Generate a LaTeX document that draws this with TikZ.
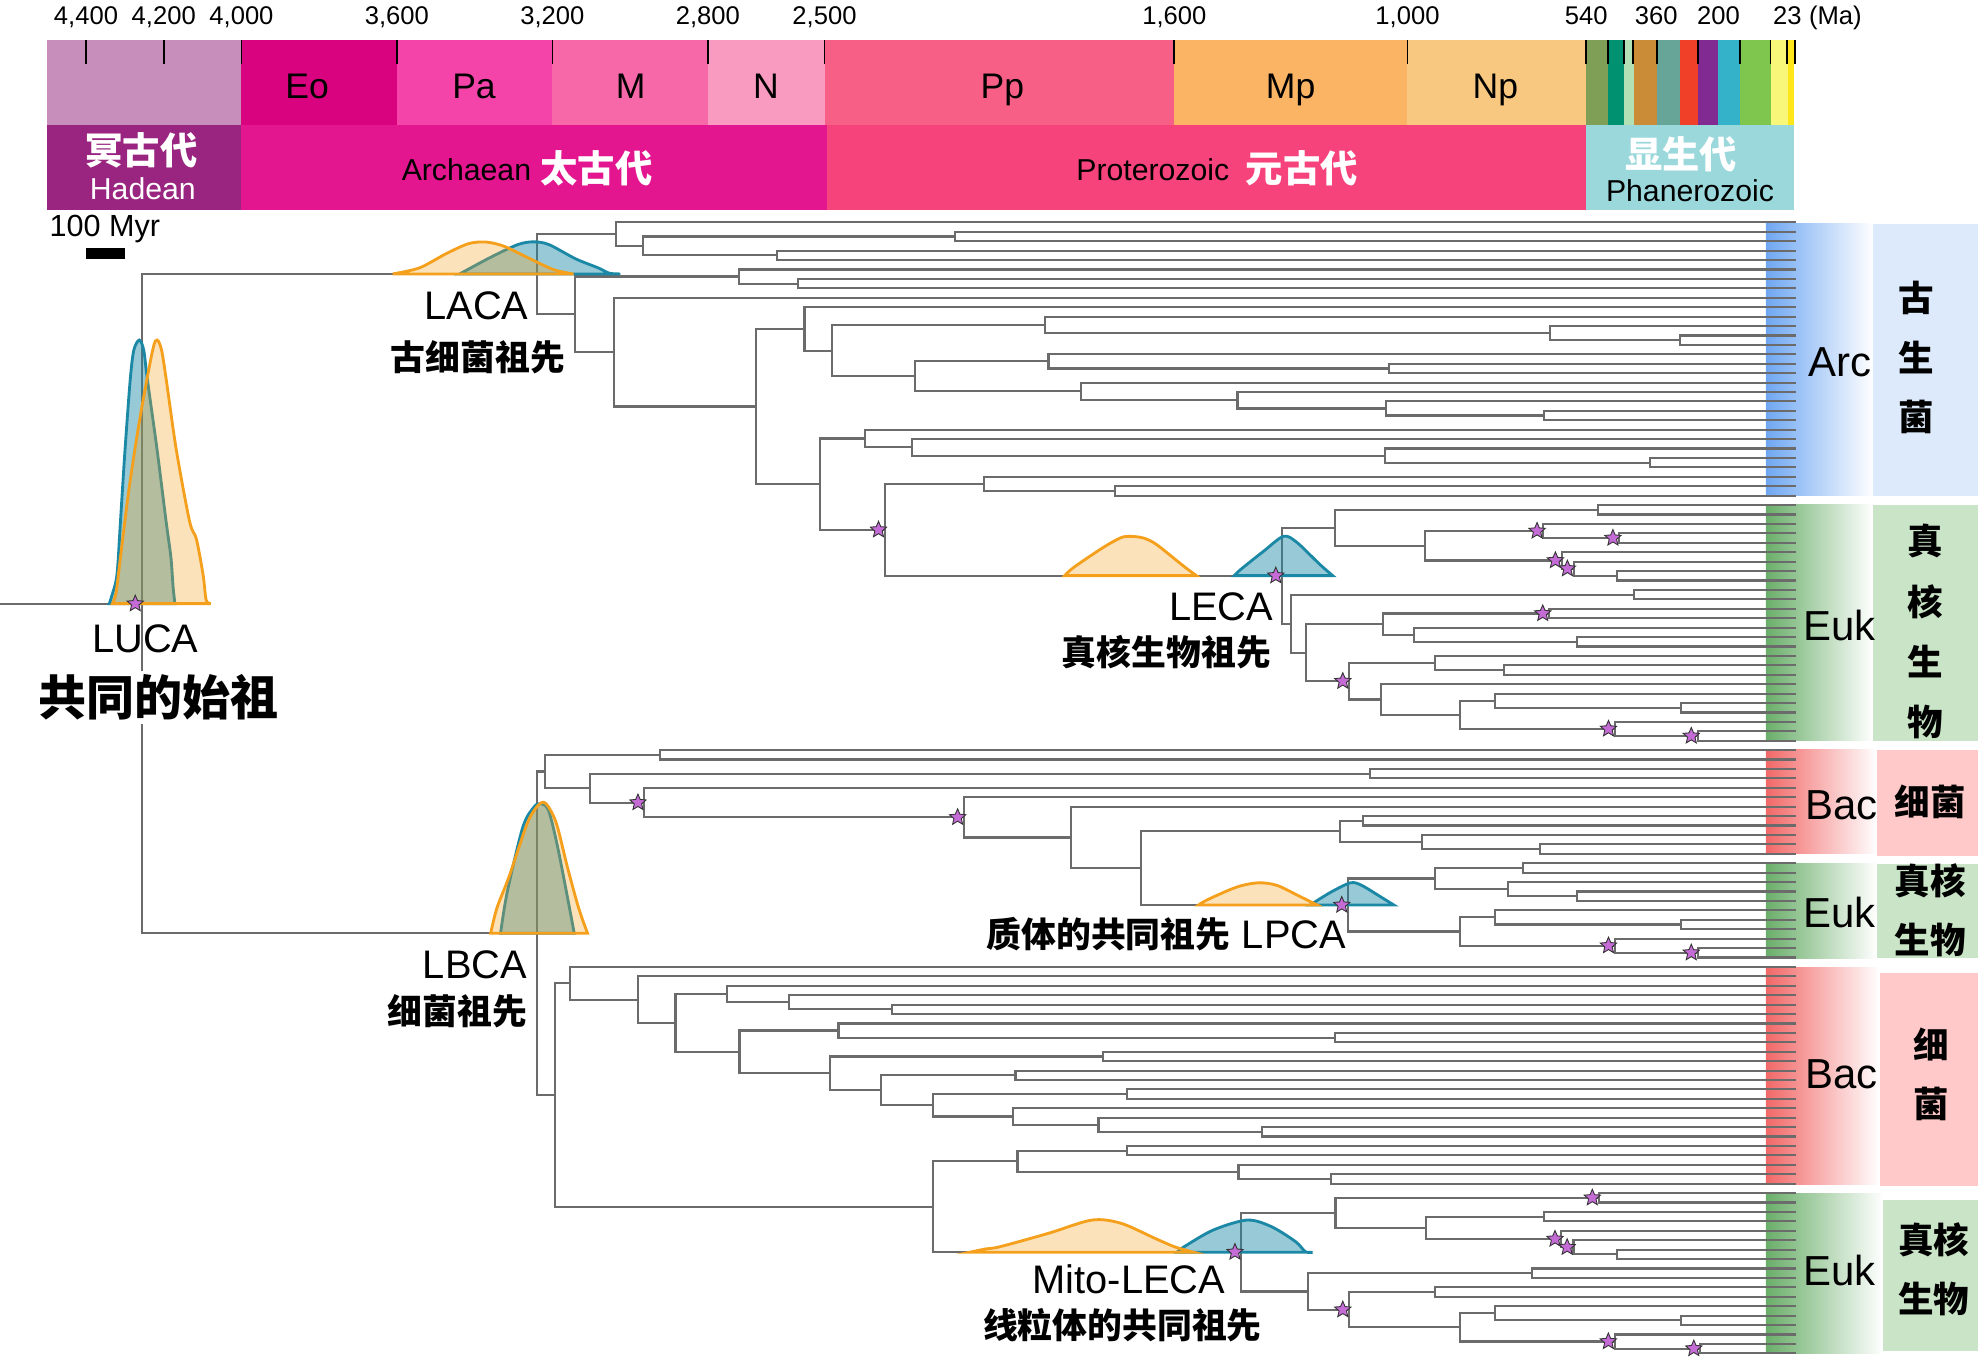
\documentclass[tikz,border=0pt]{standalone}
\usepackage{fontspec}
\setmainfont{Liberation Sans}
\newfontfamily\cjk{Noto Sans CJK SC}[BoldFont={Noto Sans CJK SC Black}]
\usetikzlibrary{calc, shapes.geometric}
\definecolor{branchgrey}{HTML}{6B6B6B}
\definecolor{densorange}{HTML}{F4A01C}
\definecolor{densteal}{HTML}{1B88A6}
\definecolor{starviolet}{HTML}{C46BD6}
% time scale
\definecolor{hadeanup}{HTML}{C78DBB}
\definecolor{hadeanlow}{HTML}{9A2581}
\definecolor{eoarch}{HTML}{DA037F}
\definecolor{paleoarch}{HTML}{F444A9}
\definecolor{mesoarch}{HTML}{F768A9}
\definecolor{neoarch}{HTML}{F99BC1}
\definecolor{paleoprot}{HTML}{F85F87}
\definecolor{mesoprot}{HTML}{FAB464}
\definecolor{neoprot}{HTML}{F8C880}
\definecolor{archeon}{HTML}{E3168F}
\definecolor{proteon}{HTML}{F7437C}
\definecolor{phaneon}{HTML}{9BD8DC}
\definecolor{cambrian}{HTML}{7F9F56}
\definecolor{ordovician}{HTML}{009270}
\definecolor{silurian}{HTML}{B3E1B6}
\definecolor{devonian}{HTML}{CB8C37}
\definecolor{carbon}{HTML}{67A599}
\definecolor{permian}{HTML}{F04028}
\definecolor{triassic}{HTML}{812B92}
\definecolor{jurassic}{HTML}{34B2C9}
\definecolor{cretaceous}{HTML}{7FC64E}
\definecolor{paleogene}{HTML}{F9F77A}
\definecolor{neogene}{HTML}{FFE619}
% groups
\definecolor{arcblue}{HTML}{6FA7F2}
\definecolor{arcpanel}{HTML}{DCEAFB}
\definecolor{eukgreen}{HTML}{6AAE6A}
\definecolor{eukpanel}{HTML}{C9E4C6}
\definecolor{bacred}{HTML}{F26868}
\definecolor{bacpanel}{HTML}{FFC9C9}

\newcommand{\joinclade}[4]{%
  \coordinate (#1m) at ($(#3)!0.5!(#4)$);
  \coordinate (#1) at (#2,0 |- #1m);
  \draw[branch] (#3) -| (#1) |- (#4);
}

\begin{document}
\begin{tikzpicture}[x=0.0125cm, y=-0.0125cm,
  branch/.style={branchgrey, line width=0.6pt},
  tickl/.style={font=\fontsize{7.2}{8}\selectfont, inner sep=0pt, anchor=base},
  stagel/.style={font=\fontsize{10}{12}\selectfont, inner sep=0pt, anchor=base},
  eonl/.style={font=\fontsize{8.5}{10}\selectfont, inner sep=0pt},
  eoncn/.style={font=\cjk\bfseries\fontsize{10.5}{12}\selectfont, text=white, inner sep=0pt},
  ancl/.style={font=\fontsize{11.2}{13}\selectfont, inner sep=0pt},
  anccn/.style={font=\cjk\bfseries\fontsize{9.8}{12}\selectfont, inner sep=0pt},
  groupl/.style={font=\fontsize{11.8}{14}\selectfont, inner sep=0pt},
  sidecn/.style={font=\cjk\bfseries\fontsize{10}{12}\selectfont, inner sep=0pt},
  starmark/.style={star, star points=5, star point ratio=2.2, fill=starviolet,
    draw=black!80, line width=0.25pt, minimum size=4.8pt, inner sep=0pt},
  dorange/.style={draw=densorange, line width=0.8pt, fill=densorange, fill opacity=0.3},
  dteal/.style={draw=densteal, line width=0.8pt, fill=densteal, fill opacity=0.45}]
\useasboundingbox (0,0) rectangle (1568,1079);

% side panels
\shade[left color=arcblue, right color=white] (1397,177) rectangle (1482,392);
\fill[arcpanel] (1482,177) rectangle (1565,392);
\shade[left color=eukgreen, right color=white] (1397,399.5) rectangle (1482,586);
\fill[eukpanel] (1482,399.5) rectangle (1565,586);
\shade[left color=bacred, right color=white] (1397,593.3) rectangle (1485,675.5);
\fill[bacpanel] (1485,593.5) rectangle (1565,677);
\shade[left color=eukgreen, right color=white] (1397,683) rectangle (1485,758);
\fill[eukpanel] (1485,683.5) rectangle (1565,758);
\shade[left color=bacred, right color=white] (1397,765) rectangle (1487,937);
\fill[bacpanel] (1487,769.5) rectangle (1565,938);
\shade[left color=eukgreen, right color=white] (1397,944) rectangle (1490,1070.8);
\fill[eukpanel] (1490,949) rectangle (1565,1069);

% time scale
\foreach \a/\b/\c in {37/191/hadeanup, 191/314/eoarch, 314/437/paleoarch, 437/560/mesoarch,
    560/653/neoarch, 653/929/paleoprot, 929/1113/mesoprot, 1113/1254.5/neoprot,
    1254.5/1272/cambrian, 1272/1284.5/ordovician, 1284.5/1292.5/silurian,
    1292.5/1310.6/devonian, 1310.6/1329/carbon, 1329/1343.5/permian,
    1343.5/1359/triassic, 1359/1376.4/jurassic, 1376.4/1400.7/cretaceous,
    1400.7/1414.5/paleogene, 1414.5/1419.5/neogene}
  \fill[\c] (\a,32) rectangle (\b,99);
\foreach \a/\b/\c in {37/191/hadeanlow, 191/654/archeon, 654/1254.5/proteon, 1254.5/1419.5/phaneon}
  \fill[\c] (\a,99) rectangle (\b,166);
\foreach \t in {4400,4200,4000,3600,3200,2800,2500,1600,1000,541,485,444,419,359,252,145,66,23,4}
  \draw[line width=0.5pt] ({1421-0.3075*\t},32) -- ({1421-0.3075*\t},51);
\foreach \t/\l in {4400/{4,400},4200/{4,200},4000/{4,000},3600/{3,600},3200/{3,200},
    2800/{2,800},2500/{2,500},1600/{1,600},1000/{1,000},540/540,360/360,200/200,23/23}
  \node[tickl] (ma\t) at ({1421-0.3075*\t},19.5) {\l};
\node[tickl] (ma) at (1452,19) {(Ma)};

\node[stagel] (eo) at (243,78) {Eo};
\node[stagel] (pa) at (375,78) {Pa};
\node[stagel] (me) at (499,78) {M};
\node[stagel] (ne) at (606,78) {N};
\node[stagel] (pp) at (793,78) {Pp};
\node[stagel] (mp) at (1021,78) {Mp};
\node[stagel] (np) at (1183,78) {Np};

\node[eoncn] (hadcn) at (112,119) {冥古代};
\node[eonl, text=white] (hadean) at (113,149) {Hadean};
\node[eonl] (archaean) at (369,134) {Archaean};
\node[eoncn] (archcn) at (472,133) {太古代};
\node[eonl] (proterozoic) at (912,134) {Proterozoic};
\node[eoncn] (protcn) at (1030,133) {元古代};
\node[eoncn] (phancn) at (1330,122) {显生代};
\node[eonl] (phanerozoic) at (1337,151) {Phanerozoic};

% scale bar
\node[eonl, font=\fontsize{8.6}{10}\selectfont] (myr) at (83,181) {100 Myr};
\fill (68,196) rectangle (99,205);

% tree
\foreach \i in {1,...,121}
  \coordinate (L\i) at (1421,{175.9+7.456*(\i-1)});

% archaea
\joinclade{a2}{755.5}{L2}{L3}
\joinclade{a3}{614.5}{L4}{L5}
\joinclade{a4}{509}{a2}{a3}
\joinclade{a5}{487}{L1}{a4}
\joinclade{a6}{631}{L7}{L8}
\joinclade{a7}{584.5}{L6}{a6}
\joinclade{a8}{1329}{L13}{L14}
\joinclade{a9}{1226.4}{L12}{a8}
\joinclade{a10}{826.4}{L11}{a9}
\joinclade{a11}{1099}{L16}{L17}
\joinclade{a12}{829.5}{L15}{a11}
\joinclade{a13}{1221.4}{L21}{L22}
\joinclade{a14}{1096.8}{L20}{a13}
\joinclade{a15}{979}{L19}{a14}
\joinclade{a16}{855.5}{L18}{a15}
\joinclade{a17}{724}{a12}{a16}
\joinclade{a18}{658}{a10}{a17}
\joinclade{a19}{636.5}{L10}{a18}
\joinclade{a20}{1305}{L26}{L27}
\joinclade{a21}{1096}{L25}{a20}
\joinclade{a22}{721.5}{L24}{a21}
\joinclade{a23}{684}{L23}{a22}
\joinclade{a24}{882}{L29}{L30}
\joinclade{a25}{778.8}{L28}{a24}
% eukaryotes under LECA
\joinclade{e1}{1264}{L31}{L32}
\joinclade{e2}{1281}{L34}{L35}
\joinclade{e3}{1221}{L33}{e2}
\joinclade{e4}{1279}{L38}{L39}
\joinclade{e5}{1245}{L37}{e4}
\joinclade{e6}{1235.5}{L36}{e5}
\joinclade{e7}{1127.4}{e3}{e6}
\joinclade{e8}{1056}{e1}{e7}
\joinclade{e9}{1292.8}{L40}{L41}
\joinclade{e10}{1225.5}{L42}{L43}
\joinclade{e11}{1247.6}{L45}{L46}
\joinclade{e12}{1118.5}{L44}{e11}
\joinclade{e13}{1094}{e10}{e12}
\joinclade{e14}{1190}{L48}{L49}
\joinclade{e15}{1135.4}{L47}{e14}
\joinclade{e16}{1329.8}{L52}{L53}
\joinclade{e17}{1183}{L51}{e16}
\joinclade{e18}{1343}{L55}{L56}
\joinclade{e19}{1277.5}{L54}{e18}
\joinclade{e20}{1155}{e17}{e19}
\joinclade{e21}{1092.4}{L50}{e20}
\joinclade{e22}{1067.3}{e15}{e21}
\joinclade{e23}{1033}{e13}{e22}
\joinclade{e24}{1021.4}{e9}{e23}
\joinclade{leca}{1014.3}{e8}{e24}
\joinclade{a26}{700}{a25}{leca}
\joinclade{a27}{649}{a23}{a26}
\joinclade{a28}{598}{a19}{a27}
\joinclade{a29}{486}{L9}{a28}
\joinclade{a30}{455}{a7}{a29}
\joinclade{laca}{425}{a5}{a30}

% bacteria, plastid side
\joinclade{b1}{522}{L57}{L58}
\joinclade{b2}{1084}{L59}{L60}
\joinclade{b3}{1078}{L64}{L65}
\joinclade{b4}{1218.5}{L67}{L68}
\joinclade{b5}{1125}{L66}{b4}
\joinclade{b6}{1060}{b3}{b5}
\joinclade{p1}{1205}{L69}{L70}
\joinclade{p2}{1247.6}{L72}{L73}
\joinclade{p3}{1193}{L71}{p2}
\joinclade{p4}{1135.4}{p1}{p3}
\joinclade{p5}{1330}{L75}{L76}
\joinclade{p6}{1183}{L74}{p5}
\joinclade{p7}{1343}{L78}{L79}
\joinclade{p8}{1277.5}{L77}{p7}
\joinclade{p9}{1155}{p6}{p8}
\joinclade{lpca}{1066.5}{p4}{p9}
\joinclade{b7}{902.7}{b6}{lpca}
\joinclade{b8}{847}{L63}{b7}
\joinclade{b9}{762.6}{L62}{b8}
\joinclade{b10}{509.7}{L61}{b9}
\joinclade{b11}{466.6}{b2}{b10}
\joinclade{b12}{431.2}{b1}{b11}
% bacteria, mitochondrial side
\joinclade{c1}{706}{L84}{L85}
\joinclade{c2}{624.2}{L83}{c1}
\joinclade{c3}{575.4}{L82}{c2}
\joinclade{c4}{1055.8}{L87}{L88}
\joinclade{c5}{663.4}{L86}{c4}
\joinclade{c6}{872.7}{L89}{L90}
\joinclade{c7}{803.4}{L91}{L92}
\joinclade{c8}{891.6}{L93}{L94}
\joinclade{c9}{998.3}{L97}{L98}
\joinclade{c10}{869}{L96}{c9}
\joinclade{c11}{801.5}{L95}{c10}
\joinclade{c12}{737.9}{c8}{c11}
\joinclade{c13}{697.2}{c7}{c12}
\joinclade{c14}{656.6}{c6}{c13}
\joinclade{c15}{585}{c5}{c14}
\joinclade{c16}{534.4}{c3}{c15}
\joinclade{c17}{504.7}{L81}{c16}
\joinclade{c18}{450.7}{L80}{c17}
\joinclade{c19}{891.6}{L99}{L100}
\joinclade{c20}{1053}{L102}{L103}
\joinclade{c21}{979.8}{L101}{c20}
\joinclade{c22}{805}{c19}{c21}
\joinclade{m1}{1264.7}{L104}{L105}
\joinclade{m2}{1221.8}{L106}{L107}
\joinclade{m3}{1279.3}{L110}{L111}
\joinclade{m4}{1244.8}{L109}{m3}
\joinclade{m5}{1235.2}{L108}{m4}
\joinclade{m6}{1127.8}{m2}{m5}
\joinclade{m7}{1056.5}{m1}{m6}
\joinclade{m8}{1211.8}{L112}{L113}
\joinclade{m9}{1135.5}{L114}{L115}
\joinclade{m10}{1329.9}{L117}{L118}
\joinclade{m11}{1183}{L116}{m10}
\joinclade{m12}{1345}{L120}{L121}
\joinclade{m13}{1277.4}{L119}{m12}
\joinclade{m14}{1154.7}{m11}{m13}
\joinclade{m15}{1067.3}{m9}{m14}
\joinclade{m16}{1034.7}{m8}{m15}
\joinclade{mleca}{982}{m7}{m16}
\joinclade{c23}{737.9}{c22}{mleca}
\joinclade{c24}{439}{c18}{c23}
\joinclade{lbca}{425}{b12}{c24}
\joinclade{luca}{112}{laca}{lbca}
\coordinate (stem) at (0,0 |- luca);
\draw[branch] (stem) -- (luca);

% age densities
\draw[dteal] plot[smooth, tension=0.5] coordinates {(86.5,477.5) (88.3,471.8) (92.5,454.9) (95.3,412.5) (98.9,356) (103.1,299.5) (105.9,276.9) (110.2,269) (113.7,276.9) (116.5,299.5) (124.3,356) (131.4,412.5) (135.2,440.8) (137,465) (138.4,477.5)} -- cycle;
\draw[dorange] plot[smooth, tension=0.5] coordinates {(89,477.5) (91.8,469) (95.3,440.8) (102.4,384.3) (111.2,327.8) (120.8,276.9) (124.3,269) (127.8,276.9) (131.4,299.5) (139.5,356) (150,412.5) (155.4,426.6) (160.7,454.9) (163.1,474.7) (166.7,477.5)} -- cycle;
\draw[dteal] plot[smooth, tension=0.5] coordinates {(363.7,216.7) (388.4,203.4) (409.6,193.5) (422,191.3) (434.3,193.5) (455.5,204.8) (473.2,211.9) (482,216.1) (490.8,216.7)} -- cycle;
\draw[dorange] plot[smooth, tension=0.5] coordinates {(310.7,216.7) (331.9,211.9) (353.1,200.6) (370.8,192.7) (384.9,191.5) (399,194.9) (416.7,203.4) (437.9,213.3) (453.7,216.7)} -- cycle;
\draw[dteal] plot[smooth, tension=0.5] coordinates {(976.5,455.4) (981.8,450.3) (999.5,436.2) (1015.4,424.3) (1026,429.1) (1043.7,446.1) (1054.3,455.4)} -- cycle;
\draw[dorange] plot[smooth, tension=0.5] coordinates {(842.3,455.4) (849.4,448.9) (872.3,433.4) (886.5,425.5) (893.5,424.3) (904.1,425.5) (914.7,430.6) (935.9,447.5) (946.5,455.4)} -- cycle;
\draw[dteal] plot[smooth, tension=0.5] coordinates {(1036.6,715.9) (1052.5,706) (1068.4,698.4) (1077.2,700.4) (1091.3,708.9) (1102.6,715.9)} -- cycle;
\draw[dorange] plot[smooth, tension=0.5] coordinates {(948.3,715.9) (955.4,711.7) (978.3,701.8) (995.3,698.4) (1010.1,700.4) (1027.8,708.9) (1041.9,715.9)} -- cycle;
\draw[dteal] plot[smooth, tension=0.5] coordinates {(931.1,990.7) (936.8,986.3) (959.8,973.1) (986.7,965.2) (1005.8,970.4) (1025,982.3) (1032.7,990.2) (1038.4,990.7)} -- cycle;
\draw[dorange] plot[smooth, tension=0.5] coordinates {(767,990.7) (780,988) (791.1,986.3) (829.4,975.7) (863.9,965.2) (887,967.8) (913.8,979.7) (929.1,986.3) (944.5,990.7)} -- cycle;
\draw[dteal] plot[smooth, tension=0.5] coordinates {(396,738.3) (401.3,705.6) (413.6,654.4) (422.5,638.4) (427.8,635.8) (434.1,641.6) (441.9,673.6) (454.3,738.3)} -- cycle;
\draw[dorange] plot[smooth, tension=0.5] coordinates {(388.2,738.3) (393.1,718.4) (403,692.8) (417.2,651.2) (426,636.8) (432,635.8) (440.1,651.2) (449,686.4) (457.8,718.4) (464.8,738.3)} -- cycle;

% calibration stars
\foreach \n in {luca,a26,leca,e3,e2,e6,e5,e10,e22,e19,e18,b10,b9,lpca,p8,p7,m1,m5,m4,mleca,m15,m13,m12}
  \node[starmark] (star-\n) at ($(\n)+(-5,0)$) {};

% ancestor labels
\node[ancl] (luca-lab) at (115,505) {LUCA};
\node[anccn, font=\cjk\bfseries\fontsize{13.5}{15}\selectfont, fill=white, inner sep=1pt] (luca-cn) at (125.7,551.7) {共同的始祖};
\node[ancl] (laca-lab) at (377,242.3) {LACA};
\node[anccn] (laca-cn) at (378,283) {古细菌祖先};
\node[ancl] (leca-lab) at (966,480) {LECA};
\node[anccn] (leca-cn) at (922.7,516) {真核生物祖先};
\node[anccn, anchor=east] (lpca-cn) at (974,739.3) {质体的共同祖先};
\node[ancl, anchor=west] (lpca-lab) at (982,739.3) {LPCA};
\node[ancl] (lbca-lab) at (375.7,763.3) {LBCA};
\node[anccn] (lbca-cn) at (361.8,800) {细菌祖先};
\node[ancl] (mleca-lab) at (893,1012) {Mito-LECA};
\node[anccn] (mleca-cn) at (888,1048) {线粒体的共同祖先};

% group labels
\node[groupl] (arc) at (1456,286.5) {Arc};
\node[groupl] (euk1) at (1455,495) {Euk};
\node[groupl] (bac1) at (1457,637) {Bac};
\node[groupl] (euk2) at (1455,722) {Euk};
\node[groupl] (bac2) at (1457,850) {Bac};
\node[groupl] (euk3) at (1455,1005) {Euk};
\node[sidecn] (arc-1) at (1516,236) {古};
\node[sidecn] (arc-2) at (1516,283) {生};
\node[sidecn] (arc-3) at (1516,330) {菌};
\node[sidecn] (euk1-1) at (1523,428) {真};
\node[sidecn] (euk1-2) at (1523,476) {核};
\node[sidecn] (euk1-3) at (1523,523) {生};
\node[sidecn] (euk1-4) at (1523,571) {物};
\node[sidecn] (bac1-1) at (1527,634) {细菌};
\node[sidecn] (euk2-1) at (1527,697) {真核};
\node[sidecn] (euk2-2) at (1527,744) {生物};
\node[sidecn] (bac2-1) at (1528,826) {细};
\node[sidecn] (bac2-2) at (1528,873) {菌};
\node[sidecn] (euk3-1) at (1530,981) {真核};
\node[sidecn] (euk3-2) at (1530,1028) {生物};
\end{tikzpicture}
\end{document}
